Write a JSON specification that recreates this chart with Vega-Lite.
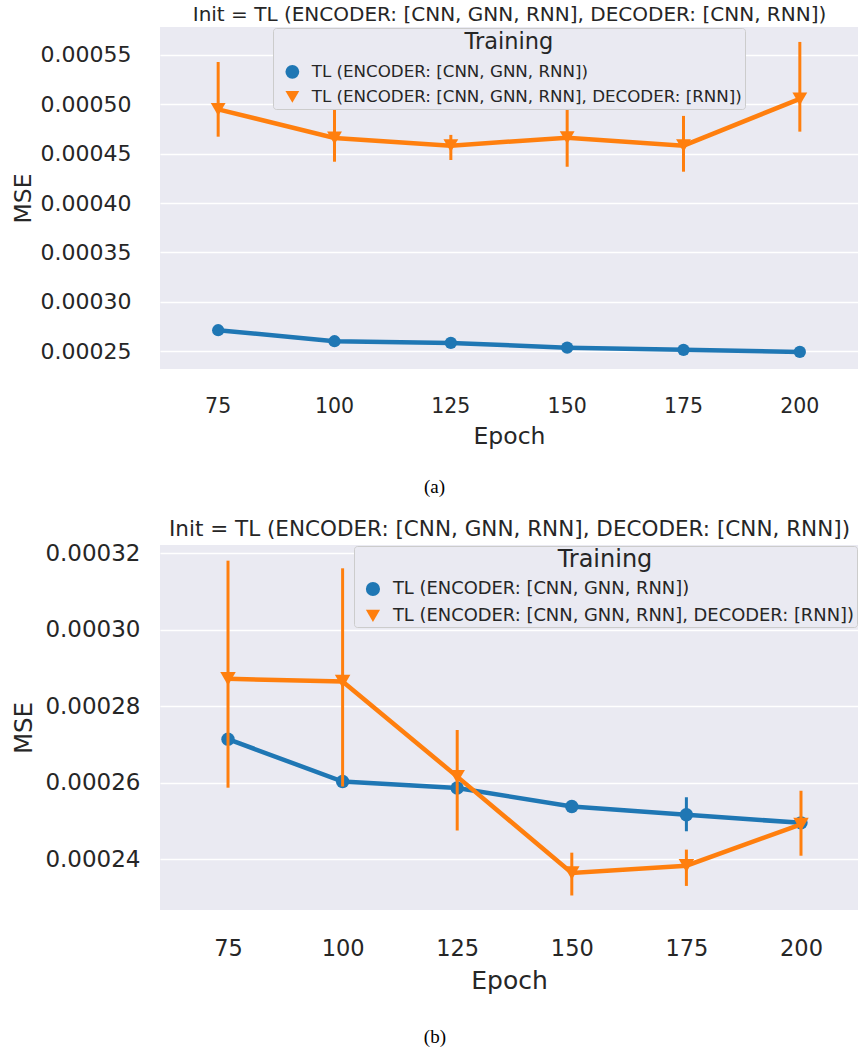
{
  "$schema": "https://vega.github.io/schema/vega-lite/v6.json",
  "background": "white",
  "padding": {"left": 11, "top": 4, "right": 0, "bottom": 0},
  "config": {
    "font": "DejaVu Sans",
    "view": {"fill": "#eaeaf2", "stroke": null},
    "axis": {
      "labelColor": "#262626",
      "titleColor": "#262626",
      "titleFontWeight": "normal",
      "domain": false,
      "ticks": false,
      "gridColor": "white",
      "gridWidth": 1.5
    },
    "title": {"color": "black", "fontWeight": "normal", "font": "Liberation Serif", "fontSize": 19, "anchor": "middle", "frame": "bounds", "orient": "bottom"},
    "legend": {
      "titleColor": "#262626",
      "labelColor": "#262626",
      "titleFontWeight": "normal",
      "fillColor": "#eaeaf2",
      "strokeColor": "#cccccc",
      "cornerRadius": 3,
      "symbolStrokeWidth": 0,
      "titleAnchor": "middle",
      "titleAlign": "center",
      "labelLimit": 700
    }
  },
  "datasets": {
    "a": [
      {"epoch": 75, "training": "TL (ENCODER: [CNN, GNN, RNN])", "mse": 0.0002714, "lo": 0.0002705, "hi": 0.0002722},
      {"epoch": 100, "training": "TL (ENCODER: [CNN, GNN, RNN])", "mse": 0.0002603, "lo": 0.0002594, "hi": 0.0002612},
      {"epoch": 125, "training": "TL (ENCODER: [CNN, GNN, RNN])", "mse": 0.0002586, "lo": 0.000258, "hi": 0.0002592},
      {"epoch": 150, "training": "TL (ENCODER: [CNN, GNN, RNN])", "mse": 0.0002538, "lo": 0.0002533, "hi": 0.0002543},
      {"epoch": 175, "training": "TL (ENCODER: [CNN, GNN, RNN])", "mse": 0.0002516, "lo": 0.0002473, "hi": 0.0002562},
      {"epoch": 200, "training": "TL (ENCODER: [CNN, GNN, RNN])", "mse": 0.0002495, "lo": 0.0002489, "hi": 0.0002503},
      {"epoch": 75, "training": "TL (ENCODER: [CNN, GNN, RNN], DECODER: [RNN])", "mse": 0.0004947, "lo": 0.0004671, "hi": 0.0005426},
      {"epoch": 100, "training": "TL (ENCODER: [CNN, GNN, RNN], DECODER: [RNN])", "mse": 0.0004658, "lo": 0.0004418, "hi": 0.000499},
      {"epoch": 125, "training": "TL (ENCODER: [CNN, GNN, RNN], DECODER: [RNN])", "mse": 0.000458, "lo": 0.0004435, "hi": 0.0004689},
      {"epoch": 150, "training": "TL (ENCODER: [CNN, GNN, RNN], DECODER: [RNN])", "mse": 0.0004661, "lo": 0.0004367, "hi": 0.0004985},
      {"epoch": 175, "training": "TL (ENCODER: [CNN, GNN, RNN], DECODER: [RNN])", "mse": 0.000458, "lo": 0.0004317, "hi": 0.0004881},
      {"epoch": 200, "training": "TL (ENCODER: [CNN, GNN, RNN], DECODER: [RNN])", "mse": 0.0005054, "lo": 0.0004722, "hi": 0.0005629}
    ],
    "b": [
      {"epoch": 75, "training": "TL (ENCODER: [CNN, GNN, RNN])", "mse": 0.0002714, "lo": 0.0002705, "hi": 0.0002722},
      {"epoch": 100, "training": "TL (ENCODER: [CNN, GNN, RNN])", "mse": 0.0002603, "lo": 0.0002594, "hi": 0.0002612},
      {"epoch": 125, "training": "TL (ENCODER: [CNN, GNN, RNN])", "mse": 0.0002586, "lo": 0.000258, "hi": 0.0002592},
      {"epoch": 150, "training": "TL (ENCODER: [CNN, GNN, RNN])", "mse": 0.0002538, "lo": 0.0002533, "hi": 0.0002543},
      {"epoch": 175, "training": "TL (ENCODER: [CNN, GNN, RNN])", "mse": 0.0002516, "lo": 0.0002473, "hi": 0.0002562},
      {"epoch": 200, "training": "TL (ENCODER: [CNN, GNN, RNN])", "mse": 0.0002495, "lo": 0.0002489, "hi": 0.0002503},
      {"epoch": 75, "training": "TL (ENCODER: [CNN, GNN, RNN], DECODER: [RNN])", "mse": 0.0002872, "lo": 0.0002587, "hi": 0.0003181},
      {"epoch": 100, "training": "TL (ENCODER: [CNN, GNN, RNN], DECODER: [RNN])", "mse": 0.0002865, "lo": 0.000259, "hi": 0.0003161},
      {"epoch": 125, "training": "TL (ENCODER: [CNN, GNN, RNN], DECODER: [RNN])", "mse": 0.0002616, "lo": 0.0002475, "hi": 0.0002738},
      {"epoch": 150, "training": "TL (ENCODER: [CNN, GNN, RNN], DECODER: [RNN])", "mse": 0.0002364, "lo": 0.0002305, "hi": 0.0002417},
      {"epoch": 175, "training": "TL (ENCODER: [CNN, GNN, RNN], DECODER: [RNN])", "mse": 0.0002383, "lo": 0.000233, "hi": 0.0002425},
      {"epoch": 200, "training": "TL (ENCODER: [CNN, GNN, RNN], DECODER: [RNN])", "mse": 0.0002491, "lo": 0.0002409, "hi": 0.0002579}
    ]
  },
  "concat": [
    {
      "title": {"text": "(a)", "offset": 30},
      "width": 698,
      "height": 342,
      "data": {"name": "a"},
      "encoding": {
        "x": {"field": "epoch", "type": "ordinal", "axis": null},
        "y": {
          "field": "mse", "type": "quantitative",
          "scale": {"domain": [0.0002322, 0.000578], "nice": false, "zero": false},
          "axis": {"title": "MSE", "format": ".5f", "values": [0.00025, 0.0003, 0.00035, 0.0004, 0.00045, 0.0005, 0.00055], "labelFontSize": 22, "titleFontSize": 23.5, "labelPadding": 29, "titlePadding": 5}
        }
      },
      "layer": [
        {
          "transform": [{"filter": {"field": "training", "equal": "TL (ENCODER: [CNN, GNN, RNN])"}}],
          "mark": {"type": "line", "strokeWidth": 4.5, "color": "#1f77b4"},
          "encoding": {"x": {"field": "epoch", "type": "ordinal", "axis": {"title": "Epoch", "orient": "bottom", "labelAngle": 0, "labelFontSize": 20.5, "titleFontSize": 23.5, "labelPadding": 27, "titlePadding": 8, "grid": false}}}
        },
        {
          "transform": [{"filter": {"field": "training", "equal": "TL (ENCODER: [CNN, GNN, RNN])"}}],
          "mark": {"type": "rule", "strokeWidth": 3, "color": "#1f77b4"},
          "encoding": {"y": {"field": "lo", "type": "quantitative"}, "y2": {"field": "hi"}}
        },
        {
          "transform": [{"filter": {"field": "training", "equal": "TL (ENCODER: [CNN, GNN, RNN])"}}],
          "mark": {"type": "point", "filled": true, "opacity": 1, "size": 150},
          "encoding": {
            "color": {"field": "training", "type": "nominal", "title": "Training",
              "scale": {"domain": ["TL (ENCODER: [CNN, GNN, RNN])", "TL (ENCODER: [CNN, GNN, RNN], DECODER: [RNN])"], "range": ["#1f77b4", "#ff7f0e"]},
              "legend": {"orient": "none", "legendX": 113, "legendY": 1, "titleFontSize": 22.5, "titlePadding": 10, "labelFontSize": 16.7, "symbolSize": 190, "symbolOffset": 8, "labelOffset": 11, "padding": 3, "rowPadding": 7}},
            "shape": {"field": "training", "type": "nominal", "title": "Training",
              "scale": {"domain": ["TL (ENCODER: [CNN, GNN, RNN])", "TL (ENCODER: [CNN, GNN, RNN], DECODER: [RNN])"], "range": ["circle", "triangle-down"]},
              "legend": {"orient": "none", "legendX": 113, "legendY": 1, "titleFontSize": 22.5, "titlePadding": 10, "labelFontSize": 16.7, "symbolSize": 190, "symbolOffset": 8, "labelOffset": 11, "padding": 3, "rowPadding": 7}}
          }
        },
        {
          "transform": [{"filter": {"field": "training", "equal": "TL (ENCODER: [CNN, GNN, RNN], DECODER: [RNN])"}}],
          "mark": {"type": "line", "strokeWidth": 4.5, "color": "#ff7f0e"},
          "encoding": {"x": {"field": "epoch", "type": "ordinal", "axis": {"title": "Init = TL (ENCODER: [CNN, GNN, RNN], DECODER: [CNN, RNN])", "orient": "top", "labels": false, "grid": false, "titleFontSize": 20, "titlePadding": 3}}}
        },
        {
          "transform": [{"filter": {"field": "training", "equal": "TL (ENCODER: [CNN, GNN, RNN], DECODER: [RNN])"}}],
          "mark": {"type": "rule", "strokeWidth": 3, "color": "#ff7f0e"},
          "encoding": {"y": {"field": "lo", "type": "quantitative"}, "y2": {"field": "hi"}}
        },
        {
          "transform": [{"filter": {"field": "training", "equal": "TL (ENCODER: [CNN, GNN, RNN], DECODER: [RNN])"}}],
          "mark": {"type": "point", "filled": true, "opacity": 1, "size": 220},
          "encoding": {
            "color": {"field": "training", "type": "nominal", "title": "Training"},
            "shape": {"field": "training", "type": "nominal", "title": "Training"}
          }
        }
      ],
      "resolve": {"axis": {"x": "independent"}}
    },
    {
      "title": {"text": "(b)", "offset": 34},
      "width": 698,
      "height": 365,
      "data": {"name": "b"},
      "encoding": {
        "x": {"field": "epoch", "type": "ordinal", "axis": null, "scale": {"type": "point", "padding": 0.5455, "align": 0.544}},
        "y": {
          "field": "mse", "type": "quantitative",
          "scale": {"domain": [0.0002267, 0.0003222], "nice": false, "zero": false},
          "axis": {"title": "MSE", "format": ".5f", "values": [0.00024, 0.00026, 0.00028, 0.0003, 0.00032], "labelFontSize": 23, "titleFontSize": 24.5, "labelPadding": 20, "titlePadding": 8}
        }
      },
      "layer": [
        {
          "transform": [{"filter": {"field": "training", "equal": "TL (ENCODER: [CNN, GNN, RNN])"}}],
          "mark": {"type": "line", "strokeWidth": 4.5, "color": "#1f77b4"},
          "encoding": {"x": {"field": "epoch", "type": "ordinal", "axis": {"title": "Epoch", "orient": "bottom", "labelAngle": 0, "labelFontSize": 22.5, "titleFontSize": 25, "labelPadding": 27, "titlePadding": 9, "grid": false}}}
        },
        {
          "transform": [{"filter": {"field": "training", "equal": "TL (ENCODER: [CNN, GNN, RNN])"}}],
          "mark": {"type": "rule", "strokeWidth": 3, "color": "#1f77b4"},
          "encoding": {"y": {"field": "lo", "type": "quantitative"}, "y2": {"field": "hi"}}
        },
        {
          "transform": [{"filter": {"field": "training", "equal": "TL (ENCODER: [CNN, GNN, RNN])"}}],
          "mark": {"type": "point", "filled": true, "opacity": 1, "size": 180},
          "encoding": {
            "color": {"field": "training", "type": "nominal", "title": "Training",
              "scale": {"domain": ["TL (ENCODER: [CNN, GNN, RNN])", "TL (ENCODER: [CNN, GNN, RNN], DECODER: [RNN])"], "range": ["#1f77b4", "#ff7f0e"]},
              "legend": {"orient": "none", "legendX": 194, "legendY": 1, "titleFontSize": 24, "titlePadding": 8, "labelFontSize": 17.9, "symbolSize": 200, "symbolOffset": 8, "labelOffset": 11, "padding": 2, "rowPadding": 8}},
            "shape": {"field": "training", "type": "nominal", "title": "Training",
              "scale": {"domain": ["TL (ENCODER: [CNN, GNN, RNN])", "TL (ENCODER: [CNN, GNN, RNN], DECODER: [RNN])"], "range": ["circle", "triangle-down"]},
              "legend": {"orient": "none", "legendX": 194, "legendY": 1, "titleFontSize": 24, "titlePadding": 8, "labelFontSize": 17.9, "symbolSize": 200, "symbolOffset": 8, "labelOffset": 11, "padding": 2, "rowPadding": 8}}
          }
        },
        {
          "transform": [{"filter": {"field": "training", "equal": "TL (ENCODER: [CNN, GNN, RNN], DECODER: [RNN])"}}],
          "mark": {"type": "line", "strokeWidth": 4.5, "color": "#ff7f0e"},
          "encoding": {"x": {"field": "epoch", "type": "ordinal", "axis": {"title": "Init = TL (ENCODER: [CNN, GNN, RNN], DECODER: [CNN, RNN])", "orient": "top", "labels": false, "grid": false, "titleFontSize": 21.5, "titlePadding": 5}}}
        },
        {
          "transform": [{"filter": {"field": "training", "equal": "TL (ENCODER: [CNN, GNN, RNN], DECODER: [RNN])"}}],
          "mark": {"type": "rule", "strokeWidth": 3, "color": "#ff7f0e"},
          "encoding": {"y": {"field": "lo", "type": "quantitative"}, "y2": {"field": "hi"}}
        },
        {
          "transform": [{"filter": {"field": "training", "equal": "TL (ENCODER: [CNN, GNN, RNN], DECODER: [RNN])"}}],
          "mark": {"type": "point", "filled": true, "opacity": 1, "size": 240},
          "encoding": {
            "color": {"field": "training", "type": "nominal", "title": "Training"},
            "shape": {"field": "training", "type": "nominal", "title": "Training"}
          }
        }
      ],
      "resolve": {"axis": {"x": "independent"}}
    }
  ],
  "columns": 1,
  "spacing": 21,
  "resolve": {"scale": {"color": "independent", "shape": "independent"}}
}
